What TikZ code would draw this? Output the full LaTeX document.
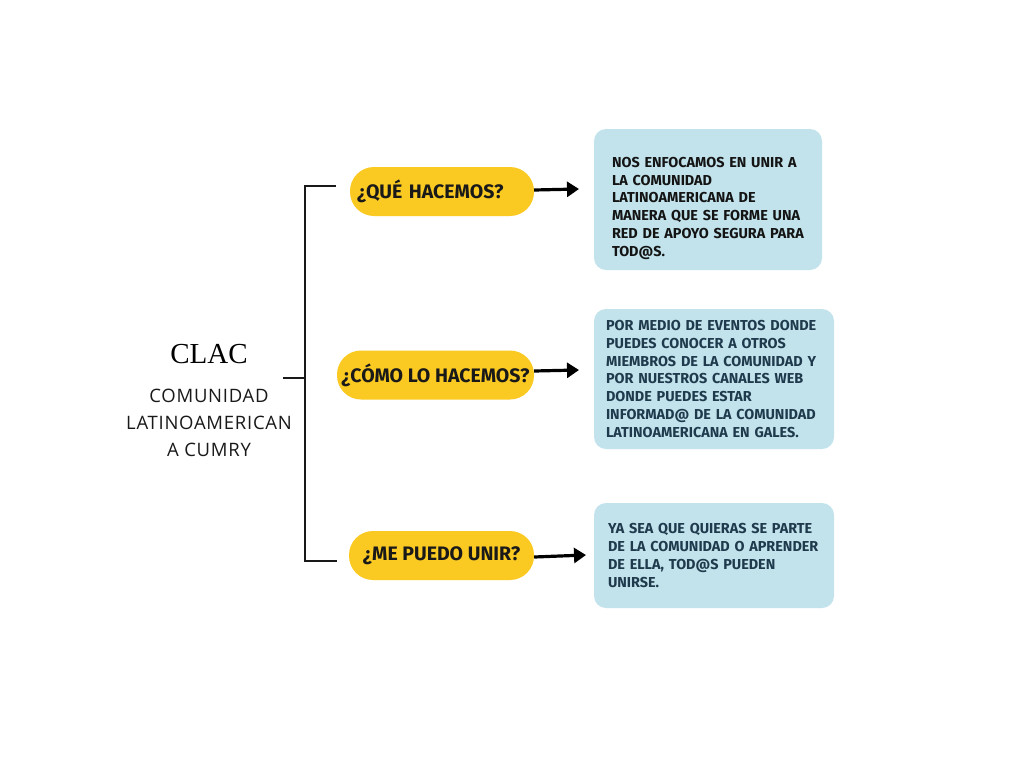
\documentclass[tikz,border=0pt]{standalone}
\usepackage{fontspec}
\setmainfont{Fira Sans}
\newfontfamily\boxfont{Fira Sans}[BoldFont={Fira Sans Bold}]
\newfontfamily\subfont{Open Sans}[LetterSpace=4]
\newfontfamily\titlefont{Liberation Serif}
\usetikzlibrary{arrows.meta}
\definecolor{pillyellow}{RGB}{250,202,35}
\definecolor{boxblue}{RGB}{194,227,236}
\definecolor{darktext}{RGB}{30,58,76}
\definecolor{linegray}{RGB}{25,25,25}
\tikzset{
  pill/.style={rectangle, rounded corners=24pt, fill=pillyellow, minimum height=49pt,
    inner ysep=0pt, align=center, font=\boxfont\bfseries\fontsize{19.5}{22}\selectfont, text=black!90},
  infobox/.style={rectangle, rounded corners=12pt, fill=boxblue, align=left, inner ysep=0pt,
    font=\boxfont\bfseries\fontsize{14.4}{17.8}\selectfont},
  bracket/.style={draw=linegray, line width=1.8pt},
  arrowline/.style={draw=black, line width=3.2pt, -{Triangle[length=12pt,width=15pt]}},
}
\begin{document}
\begin{tikzpicture}[x=1pt,y=-1pt]
\useasboundingbox (0,0) rectangle (1024,768);
% left title
\node[font=\titlefont\fontsize{29}{34}\selectfont, text=black] (clac) at (209,354) {CLAC};
\node[font=\subfont\fontsize{18.5}{27}\selectfont, align=center, text=black!90] (sub) at (209,423)
  {COMUNIDAD\\LATINOAMERICAN\\A CUMRY};
% pills
\node[pill, text width=170pt, inner xsep=7pt, align=left] (q1) at (442,191.5) {¿QUÉ HACEMOS?};
\node[pill, minimum width=197pt] (q2) at (435.5,375) {¿CÓMO LO HACEMOS?};
\node[pill, minimum width=185pt] (q3) at (441.5,555.5) {¿ME PUEDO UNIR?};
% info boxes
\node[infobox, minimum width=228pt, minimum height=141pt, text width=192pt, inner xsep=18pt, text=black!92] (b1) at (708,199.5)
  {\rule{0pt}{0pt}\\[9.8pt]NOS ENFOCAMOS EN UNIR A\\LA COMUNIDAD\\LATINOAMERICANA DE\\MANERA QUE SE FORME UNA\\RED DE APOYO SEGURA PARA\\TOD@S.};
\node[infobox, minimum width=240pt, minimum height=140pt, text width=216pt, inner xsep=12pt, text=darktext] (b2) at (714,379)
  {POR MEDIO DE EVENTOS DONDE\\PUEDES CONOCER A OTROS\\MIEMBROS DE LA COMUNIDAD Y\\POR NUESTROS CANALES WEB\\DONDE PUEDES ESTAR\\INFORMAD@ DE LA COMUNIDAD\\LATINOAMERICANA EN GALES.};
\node[infobox, minimum width=240pt, minimum height=105pt, text width=212pt, inner xsep=14pt, text=darktext] (b3) at (714,555.5)
  {YA SEA QUE QUIERAS SE PARTE\\DE LA COMUNIDAD O APRENDER\\DE ELLA, TOD@S PUEDEN\\UNIRSE.};
% bracket
\coordinate (stub) at (283,378);
\coordinate (spine) at (305,378);
\coordinate (top) at (305,186);
\coordinate (bot) at (305,561);
\coordinate (topend) at (336,186);
\coordinate (botend) at (337,561);
\draw[bracket] (stub) -- (spine);
\draw[bracket] (topend) -- (top) -- (bot) -- (botend);
% arrows
\coordinate (a1) at (579,189);
\coordinate (a2) at (579,370);
\coordinate (a3) at (586,555);
\draw[arrowline] ([yshift=1.5pt]q1.east) -- (a1);
\draw[arrowline] ([yshift=4pt]q2.east) -- (a2);
\draw[arrowline] ([yshift=-1.5pt]q3.east) -- (a3);
\end{tikzpicture}
\end{document}
